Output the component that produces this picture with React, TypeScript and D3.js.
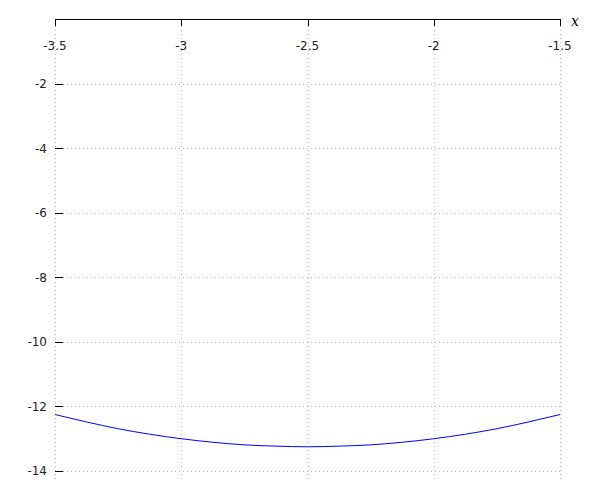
import { useEffect, useRef } from 'react';
import * as d3 from 'd3';

const xTicks = [-3.5, -3, -2.5, -2, -1.5];
const yTicks = [-2, -4, -6, -8, -10, -12, -14];

// curve samples
const curveX = [-3.5, -3.375, -3.25, -3.125, -3, -2.875, -2.75, -2.625, -2.5, -2.375, -2.25, -2.125, -2, -1.875, -1.75, -1.625, -1.5];
const curveY = [-12.25, -12.48, -12.69, -12.86, -13.0, -13.11, -13.19, -13.23, -13.25, -13.23, -13.19, -13.11, -13.0, -12.86, -12.69, -12.48, -12.25];

const App = () => {
  const ref = useRef<SVGSVGElement>(null);

  useEffect(() => {
    const width = 600, height = 500;
    const svg = d3.select(ref.current);
    svg.selectAll('*').remove();

    const x = d3.scaleLinear().domain([-3.5, -1.5]).range([55, 560]);
    const y = d3.scaleLinear().domain([0, -14.28]).range([19.5, 480]);

    const font = 'DejaVu Sans, sans-serif';

    // grid
    const grid = svg.append('g')
      .attr('stroke', '#bbb')
      .attr('stroke-width', 1)
      .attr('stroke-dasharray', '1,3');
    grid.selectAll('.vg').data(xTicks).enter().append('line')
      .attr('x1', d => Math.round(x(d)) + 0.5).attr('x2', d => Math.round(x(d)) + 0.5)
      .attr('y1', 26).attr('y2', 481);
    grid.selectAll('.hg').data(yTicks).enter().append('line')
      .attr('x1', 63).attr('x2', 560)
      .attr('y1', d => Math.round(y(d)) + 0.5).attr('y2', d => Math.round(y(d)) + 0.5);

    // top axis
    const top = svg.append('g').attr('stroke', '#000').attr('stroke-width', 1);
    top.append('line').attr('x1', 55).attr('x2', 560.5).attr('y1', 19.5).attr('y2', 19.5);
    top.selectAll('.xt').data(xTicks).enter().append('line')
      .attr('x1', d => Math.round(x(d)) + 0.5).attr('x2', d => Math.round(x(d)) + 0.5)
      .attr('y1', 19).attr('y2', 26);

    svg.selectAll('.xl').data(xTicks).enter().append('text')
      .attr('x', d => x(d)).attr('y', 50)
      .attr('text-anchor', 'middle')
      .attr('font-family', font).attr('font-size', 12).attr('fill', '#222')
      .text(d => String(d));

    svg.append('text')
      .attr('x', 571).attr('y', 26)
      .attr('font-family', 'DejaVu Serif, serif').attr('font-style', 'italic')
      .attr('font-size', 14).attr('fill', '#000')
      .text('x');

    // y ticks
    svg.append('g').attr('stroke', '#000').selectAll('line').data(yTicks).enter().append('line')
      .attr('x1', 55).attr('x2', 63)
      .attr('y1', d => Math.round(y(d)) + 0.5).attr('y2', d => Math.round(y(d)) + 0.5);

    svg.selectAll('.yl').data(yTicks).enter().append('text')
      .attr('x', 47).attr('y', d => y(d)).attr('dy', '0.35em')
      .attr('text-anchor', 'end')
      .attr('font-family', font).attr('font-size', 12).attr('fill', '#222')
      .text(d => String(d));

    // curve
    const pts = curveX.map((v, i) => [v, curveY[i]] as [number, number]);
    const line = d3.line<[number, number]>()
      .x(d => x(d[0])).y(d => y(d[1]))
      .curve(d3.curveMonotoneX);
    svg.append('path')
      .datum(pts)
      .attr('d', line)
      .attr('fill', 'none')
      .attr('stroke', '#0000ff')
      .attr('stroke-width', 1);

    svg.attr('width', width).attr('height', height);
  }, []);

  return (
    <svg ref={ref} width={600} height={500} style={{ position: 'absolute', left: 0, top: 0 }} />
  );
};

export default App;
